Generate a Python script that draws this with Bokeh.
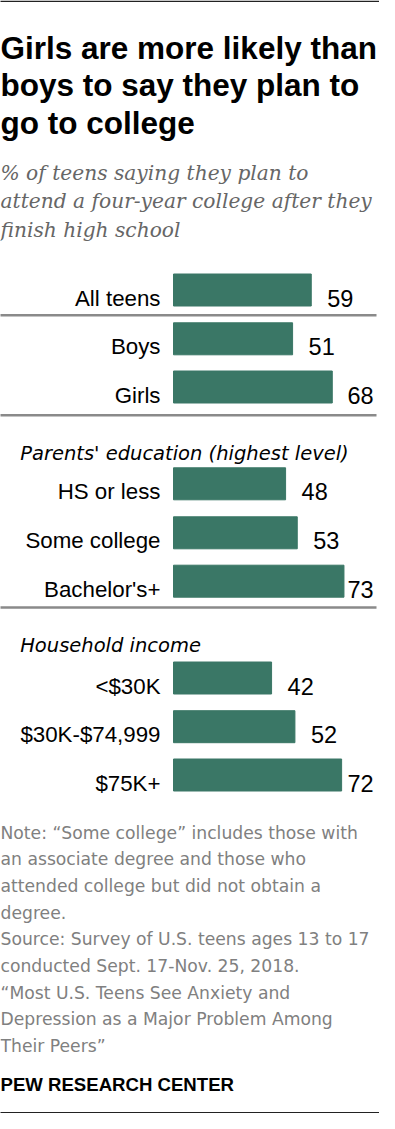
import numpy as np
from bokeh.plotting import figure
from bokeh.models import Range1d, ColumnDataSource
from bokeh.core.properties import value
from bokeh.embed import file_html
from bokeh.resources import INLINE

# ---------------- data ----------------
categories = ["All teens", "Boys", "Girls",
              "HS or less", "Some college", "Bachelor's+",
              "<$30K", "$30K-$74,999", "$75K+"]
values = [59, 51, 68, 48, 53, 73, 42, 52, 72]
group_headers = ["Parents' education (highest level)", "Household income"]

title_lines = ["Girls are more likely than",
               "boys to say they plan to",
               "go to college"]
subtitle_lines = ["% of teens saying they plan to",
                  "attend a four-year college after they",
                  "finish high school"]
note_lines = ["Note: \u201cSome college\u201d includes those with",
              "an associate degree and those who",
              "attended college but did not obtain a",
              "degree.",
              "Source: Survey of U.S. teens ages 13 to 17",
              "conducted Sept. 17-Nov. 25, 2018.",
              "\u201cMost U.S. Teens See Anxiety and",
              "Depression as a Major Problem Among",
              "Their Peers\u201d"]
credit = "PEW RESEARCH CENTER"

# ---------------- layout ----------------
W, H = 379, 1113
DX, DY = -3, -8          # reference px -> figure px
BAR0 = 176 + DX          # pixel where value 0 sits
S = 2.335                # px per percentage point

def X(px):
    return (px + DX - BAR0) / S

def Y(py):
    return py + DY

BAR_COLOR = "#3a7766"
SANS = "Liberation Sans"

p = figure(width=W, height=H, output_backend="svg", toolbar_location=None,
           x_range=Range1d(-BAR0 / S, (W - BAR0) / S),
           y_range=Range1d(H, 0), min_border=0)
p.axis.visible = False
p.grid.visible = False
p.outline_line_color = None
p.background_fill_color = "white"
p.border_fill_color = "white"

# bar centres (reference px)
bar_y_ref = [297.5, 346.3, 394.5, 491.3, 540.3, 588.7, 685.5, 734.2, 782.5]
bar_y = [Y(v) for v in bar_y_ref]

vals = np.array(values, dtype=float)
label_x = np.minimum(vals + 16 / S, 174 / S)

src = ColumnDataSource(dict(y=bar_y, v=vals, cat=categories,
                            lab=[str(v) for v in values],
                            lx=label_x,
                            ty=[y + 8 for y in bar_y],
                            cx=[X(163)] * len(values)))

p.hbar(y="y", left=0, right="v", height=32, color=BAR_COLOR, source=src)

p.text(x="cx", y="ty", text="cat", source=src, text_align="right",
       text_baseline="alphabetic", text_font=value(SANS),
       text_font_size="22.3px", text_color="#000000")
p.text(x="lx", y="ty", text="lab", source=src, text_align="left",
       text_baseline="alphabetic", text_font=value(SANS),
       text_font_size="23.5px", text_color="#000000")

# separators
for sy in [322.7, 422.7, 615.0]:
    p.segment(x0=X(2), x1=X(379), y0=Y(sy), y1=Y(sy),
              line_color="#8a8a8a", line_width=2.5)

# group headers
p.text(x=[X(22.7), X(22.7)], y=[Y(460.7), Y(653.3)], text=group_headers,
       text_align="left", text_baseline="alphabetic", text_font=value("DejaVu Sans"),
       text_font_style="italic", text_font_size="19.5px", text_color="#000000")

# title
p.text(x=[X(3)] * 3, y=[Y(55), Y(92.5), Y(130)], text=title_lines,
       text_align="left", text_baseline="alphabetic", text_font=value(SANS),
       text_font_style="bold", text_font_size="31.5px", text_color="#000000")

# subtitle
p.text(x=[X(3)] * 3, y=[Y(180), Y(208.5), Y(237)], text=subtitle_lines,
       text_align="left", text_baseline="alphabetic",
       text_font=value("DejaVu Serif"), text_font_style="italic",
       text_font_size="20.2px", text_color="#666666")

# notes
note_y = [Y(840 + 26.67 * i) for i in range(len(note_lines))]
p.text(x=[X(3)] * len(note_lines), y=note_y, text=note_lines,
       text_align="left", text_baseline="alphabetic", text_font=value("DejaVu Sans"),
       text_font_size="17.2px", text_color="#808080")

p.text(x=[X(3)], y=[Y(1091.7)], text=[credit], text_align="left",
       text_baseline="alphabetic", text_font=value(SANS),
       text_font_style="bold", text_font_size="18.6px", text_color="#000000")

# top and bottom rules
p.segment(x0=X(-10), x1=X(400), y0=0.8, y1=0.8, line_color="#222222", line_width=1.5)
p.segment(x0=X(-10), x1=X(400), y0=H - 0.8, y1=H - 0.8, line_color="#222222", line_width=1.5)

open("out.html", "w").write(file_html(p, INLINE))
